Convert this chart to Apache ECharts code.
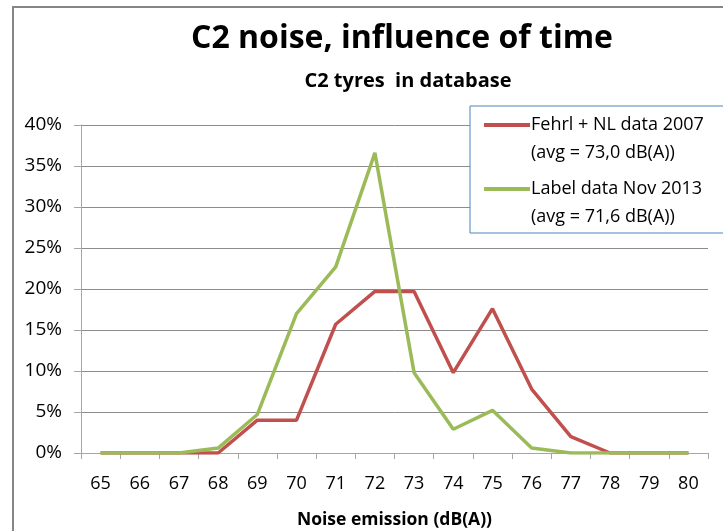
<!DOCTYPE html>
<html lang="en">
<head>
    <meta charset="UTF-8">
    <title>C2 noise, influence of time</title>
    <script src="https://cdn.jsdelivr.net/npm/echarts@6/dist/echarts.min.js"></script>
    <style>
        html, body { margin: 0; padding: 0; background: #fff; }
        #main { width: 723px; height: 531px; }
    </style>
</head>
<body>
<div id="main"></div>
<script>
    // noise emission classes, dB(A)
    const categories = ['65', '66', '67', '68', '69', '70', '71', '72', '73', '74', '75', '76', '77', '78', '79', '80'];
    // share of tyres per class (%)
    const fehrlData = [0, 0, 0, 0, 4.0, 4.0, 15.7, 19.7, 19.7, 9.8, 17.6, 7.8, 2.0, 0, 0, 0];
    const labelData = [0, 0, 0, 0.6, 4.7, 17.0, 22.7, 36.6, 9.8, 2.9, 5.2, 0.6, 0, 0, 0, 0];
    const seriesNames = ['Fehrl + NL data 2007\n(avg = 73,0 dB(A))', 'Label data Nov 2013\n(avg = 71,6 dB(A))'];

    const font = '"Open Sans", "Noto Sans", sans-serif';
    // legend line drawn level with the first text line (tiny corner dots fix the box)
    const legendIcon = 'path://M0,0H0.01V0.01H0Z M0,12H46V16H0Z M45.99,55.99H46V56H45.99Z';

    let myChart = echarts.init(document.getElementById('main'));

    let option = {
        animation: false,
        color: ['#C0504D', '#9BBB59'],
        title: [
            {
                text: 'C2 noise, influence of time',
                left: 397, top: 18, textAlign: 'center',
                textStyle: { fontFamily: font, fontSize: 32, fontWeight: 'bold', color: '#000' }
            },
            {
                text: 'C2 tyres  in database',
                left: 403, top: 66, textAlign: 'center',
                textStyle: { fontFamily: font, fontSize: 20, fontWeight: 'bold', color: '#000' }
            }
        ],
        graphic: [
            {   // outer frame
                type: 'rect', z: 0,
                shape: { x: 13, y: 7, width: 730, height: 540 },
                style: { fill: 'none', stroke: '#868686', lineWidth: 2 }
            },
            {   // legend box
                type: 'rect', z: 10,
                shape: { x: 470, y: 106, width: 270, height: 127 },
                style: { fill: '#fff', stroke: '#4F81BD', lineWidth: 1 }
            }
        ],
        legend: {
            orient: 'vertical',
            left: 484, top: 111,
            padding: 0,
            z: 20,
            itemWidth: 46, itemHeight: 56,
            itemGap: 8,
            data: seriesNames.map(function (n) { return { name: n, icon: legendIcon }; }),
            textStyle: { fontFamily: font, fontSize: 18, color: '#000', lineHeight: 28, padding: [0, 0, 0, -4] }
        },
        grid: { left: 81, right: 15, top: 125, bottom: 78, outerBoundsMode: 'none' },
        xAxis: {
            type: 'category',
            data: categories,
            boundaryGap: true,
            name: 'Noise emission (dB(A))',
            nameLocation: 'middle',
            nameGap: 58,
            nameTextStyle: { fontFamily: font, fontSize: 17.5, fontWeight: 'bold', color: '#000' },
            axisLine: { lineStyle: { color: '#a6a6a6', width: 1 } },
            axisTick: { show: true, length: 6, lineStyle: { color: '#a6a6a6' } },
            axisLabel: { fontFamily: font, fontSize: 18, color: '#000', margin: 22 }
        },
        yAxis: {
            type: 'value',
            min: 0, max: 40, interval: 5,
            axisLine: { show: true, lineStyle: { color: '#a6a6a6', width: 1 } },
            axisTick: { show: true, length: 7, lineStyle: { color: '#a6a6a6' } },
            axisLabel: { fontFamily: font, fontSize: 19, color: '#000', margin: 19, formatter: '{value}%' },
            splitLine: { lineStyle: { color: '#8c8c8c', width: 1 } }
        },
        series: [
            {
                name: seriesNames[0],
                type: 'line',
                symbol: 'none',
                data: fehrlData,
                lineStyle: { width: 3.5 }
            },
            {
                name: seriesNames[1],
                type: 'line',
                symbol: 'none',
                data: labelData,
                lineStyle: { width: 3.5 }
            }
        ]
    };

    myChart.setOption(option);
</script>
</body>
</html>
